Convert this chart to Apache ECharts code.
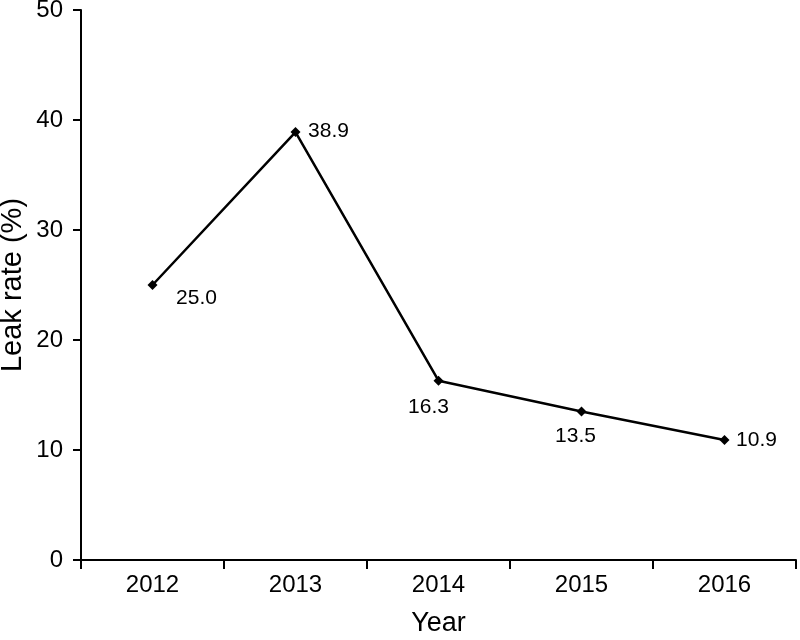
<!DOCTYPE html>
<html>
<head>
<meta charset="utf-8">
<script src="https://cdn.jsdelivr.net/npm/echarts@6/dist/echarts.min.js"></script>
<style>html,body{margin:0;padding:0;background:#fff}#c{width:800px;height:640px}</style>
</head>
<body>
<div id="c"></div>
<script>
var years = ['2012', '2013', '2014', '2015', '2016'];
var leakRate = [25.0, 38.9, 16.3, 13.5, 10.9];
var labelText = ['25.0', '38.9', '16.3', '13.5', '10.9'];
var labelOffsets = [[44, 13], [33, -1], [-10, 27], [-6, 25], [32, 0]];

var font = '"Liberation Sans", Arial, Helvetica, sans-serif';
var chart = echarts.init(document.getElementById('c'));
chart.setOption({
  animation: false,
  backgroundColor: '#fff',
  grid: { left: 81, right: 4, top: 10, bottom: 80, containLabel: false, outerBoundsMode: 'none' },
  xAxis: {
    type: 'category',
    data: years,
    boundaryGap: true,
    name: 'Year',
    nameLocation: 'middle',
    nameGap: 50,
    nameMoveOverlap: false,
    nameTextStyle: { fontFamily: font, fontSize: 27, color: '#000' },
    axisLine: { lineStyle: { color: '#000', width: 2 } },
    axisTick: { show: true, alignWithLabel: false, length: 9, lineStyle: { color: '#000', width: 2 } },
    axisLabel: { fontFamily: font, fontSize: 24, color: '#000', margin: 13 },
    splitLine: { show: false }
  },
  yAxis: {
    type: 'value',
    min: 0, max: 50, interval: 10,
    name: 'Leak rate (%)',
    nameLocation: 'middle',
    nameGap: 54,
    nameMoveOverlap: false,
    nameTextStyle: { fontFamily: font, fontSize: 29, color: '#000' },
    axisLine: { show: true, lineStyle: { color: '#000', width: 2 } },
    axisTick: { show: true, length: 8, lineStyle: { color: '#000', width: 2 } },
    axisLabel: { fontFamily: font, fontSize: 24, color: '#000', margin: 18 },
    splitLine: { show: false }
  },
  series: [{
    type: 'line',
    data: leakRate.map(function (v, i) {
      return {
        value: v,
        label: { show: true, position: 'inside', offset: labelOffsets[i], formatter: labelText[i] }
      };
    }),
    symbol: 'diamond',
    symbolSize: 10,
    itemStyle: { color: '#000' },
    lineStyle: { color: '#000', width: 2.5 },
    label: { fontFamily: font, fontSize: 21, color: '#000' }
  }]
});
</script>
</body>
</html>
